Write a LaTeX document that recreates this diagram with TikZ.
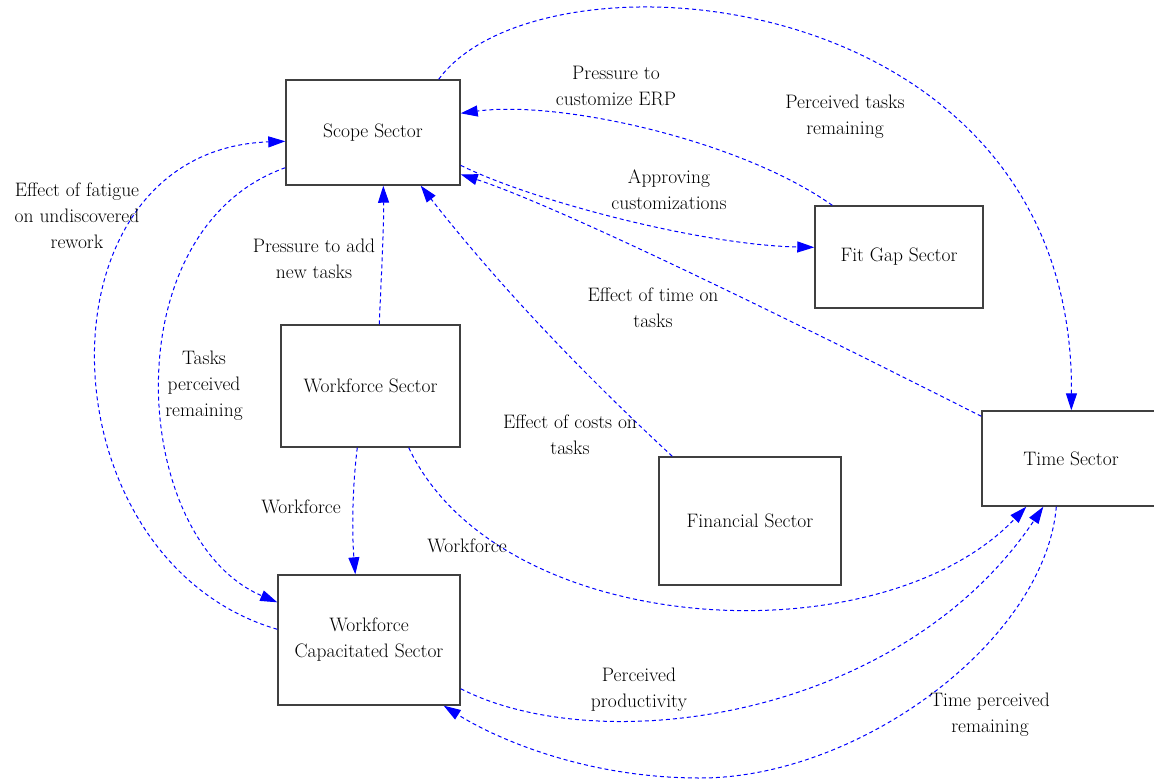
\documentclass[tikz,border=0pt]{standalone}
\usetikzlibrary{arrows.meta}
\definecolor{linkblue}{RGB}{0,0,255}
\definecolor{boxgray}{RGB}{64,64,64}
\begin{document}
\begin{tikzpicture}[x=1pt,y=-1pt,
  sector/.style={draw=boxgray, line width=1.4pt, fill=white, inner sep=0pt,
    align=center, font=\fontsize{19.5}{26}\selectfont},
  link/.style={draw=linkblue, line width=1pt, dash pattern=on 4pt off 3pt,
    -{Triangle[length=17pt,width=11pt]}},
  lbl/.style={align=center, inner sep=0pt, font=\fontsize{19.5}{26}\selectfont}]
\clip (0,0) rectangle (1154,780);
\fill[white] (0,0) rectangle (1154,780);

% sectors
\node[sector, minimum width=174pt, minimum height=105pt] (scope)  at (373,132.5) {Scope Sector};
\node[sector, minimum width=168pt, minimum height=102pt] (fitgap) at (899,257)   {Fit Gap Sector};
\node[sector, minimum width=179pt, minimum height=122pt] (work)   at (370.5,386) {Workforce Sector};
\node[sector, minimum width=182pt, minimum height=130pt] (wc)     at (369,640)   {Workforce\\Capacitated Sector};
\node[sector, minimum width=182pt, minimum height=128pt] (fin)    at (750,521)   {Financial Sector};
\node[sector, minimum width=178pt, minimum height=95pt]  (time)   at (1071,458.5) {Time Sector};

% links between sectors
\draw[link] ([xshift=-22pt]scope.north east) .. controls (540,-60) and (1075,-20) .. ([xshift=90pt]time.north west);
\draw[link] ([xshift=18pt]fitgap.north west) .. controls (740,140) and (560,100) .. ([yshift=-34pt]scope.north east);
\draw[link] ([yshift=-86pt]scope.north east) .. controls (530,200) and (700,245) .. ([yshift=-42pt]fitgap.north west);
\draw[link] ([yshift=-6pt]time.north west) .. controls (850,350) and (570,210) .. ([yshift=-95pt]scope.north east);
\draw[link] ([xshift=14pt]fin.north west) .. controls (580,371) and (496,282) .. ([xshift=-40pt]scope.south east);
\draw[link] ([xshift=99pt]work.north west) .. controls (381,280) and (384,230) .. ([xshift=98pt]scope.south west);
\draw[link] ([xshift=77pt]work.south west) .. controls (352,490) and (352,535) .. ([xshift=78pt]wc.north west);
\draw[link] ([xshift=-52pt]work.south east) .. controls (500,640) and (880,660) .. ([xshift=45pt]time.south west);
\draw[link] ([yshift=17pt]wc.south east) .. controls (600,760) and (900,720) .. ([xshift=62pt]time.south west);
\draw[link] ([xshift=75pt]time.south west) .. controls (1045,640) and (860,778) .. (700,778)
            .. controls (580,778) and (490,735) .. ([xshift=-17pt]wc.south east);
\draw[link] ([yshift=18pt]scope.south west) .. controls (110,230) and (130,540) .. ([yshift=-28pt]wc.north west);
\draw[link] ([yshift=-55pt]wc.north west) .. controls (40,560) and (30,150) .. ([yshift=-62pt]scope.north west);

% link labels
\node[lbl] (lcustom)  at (616,86)  {Pressure to\\customize ERP};
\node[lbl] (lptasks)  at (845,117) {Perceived tasks\\remaining};
\node[lbl] (lapprove) at (669,190) {Approving\\customizations};
\node[lbl] (lfatigue) at (77,216)  {Effect of fatigue\\on undiscovered\\rework};
\node[lbl] (lnewtask) at (314,259) {Pressure to add\\new tasks};
\node[lbl] (ltasksrm) at (204,386) {Tasks\\perceived\\remaining};
\node[lbl] (ltime)    at (653,308) {Effect of time on\\tasks};
\node[lbl] (lcosts)   at (570,435) {Effect of costs on\\tasks};
\node[lbl] (lwf1)     at (301,507) {Workforce};
\node[lbl] (lwf2)     at (467,546) {Workforce};
\node[lbl] (lprod)    at (639,690) {Perceived\\productivity};
\node[lbl] (ltimerm)  at (990,715) {Time perceived\\remaining};
\end{tikzpicture}
\end{document}
